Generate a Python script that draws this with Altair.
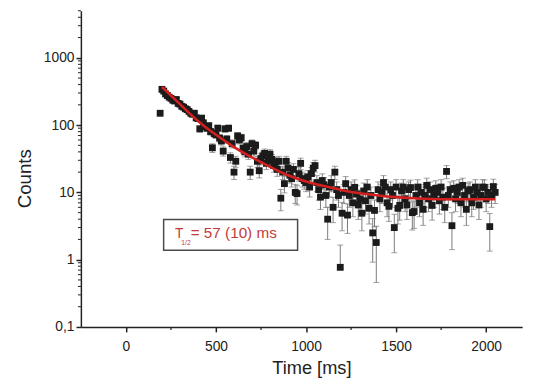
import altair as alt
import pandas as pd

# ---- data ----
time_ms = [190,
    200, 210, 220, 230, 240, 250, 260, 270, 280, 290,
    300, 310, 320, 330, 340, 350, 360, 370, 380, 390,
    400, 410, 420, 430, 440, 450, 460, 470, 480, 490,
    500, 510, 520, 530, 540, 550, 560, 570, 580, 590,
    600, 610, 620, 630, 640, 650, 660, 670, 680, 690,
    700, 710, 720, 730, 740, 750, 760, 770, 780, 790,
    800, 810, 820, 830, 840, 850, 860, 870, 880, 890,
    900, 910, 920, 930, 940, 950, 960, 970, 980, 990,
    1000, 1010, 1020, 1030, 1040, 1050, 1060, 1070, 1080, 1090,
    1100, 1110, 1120, 1130, 1140, 1150, 1160, 1170, 1180, 1190,
    1200, 1210, 1220, 1230, 1240, 1250, 1260, 1270, 1280, 1290,
    1300, 1310, 1320, 1330, 1340, 1350, 1360, 1370, 1380, 1390,
    1400, 1410, 1420, 1430, 1440, 1450, 1460, 1470, 1480, 1490,
    1500, 1510, 1520, 1530, 1540, 1550, 1560, 1570, 1580, 1590,
    1600, 1610, 1620, 1630, 1640, 1650, 1660, 1670, 1680, 1690,
    1700, 1710, 1720, 1730, 1740, 1750, 1760, 1770, 1780, 1790,
    1800, 1810, 1820, 1830, 1840, 1850, 1860, 1870, 1880, 1890,
    1900, 1910, 1920, 1930, 1940, 1950, 1960, 1970, 1980, 1990,
    2000, 2010, 2020, 2030, 2040, 2050]

counts = [150,
    340, 320, 290, 275, 260, 250, 235, 228, 240, 210,
    205, 190, 185, 175, 170, 160, 150, 145, 150, 128,
    125, 88, 127, 108, 95, 90, 98, 80, 46, 75,
    72, 90, 64, 58, 41, 88, 62, 90, 33, 53,
    20, 29, 69, 60, 65, 45, 40, 48, 37, 20,
    53, 41, 50, 29, 21, 32, 35, 38, 27, 30,
    37, 31, 25, 28, 22, 29, 8.2, 20, 13.5, 29,
    23, 18, 16, 22, 10, 9.6, 19, 27, 16, 15,
    14, 17, 12, 19, 23, 25, 14, 11, 8.5, 15,
    13, 9, 4, 12, 14, 6, 20, 11, 9, 0.77,
    4.9, 10, 13.5, 4.6, 9, 11, 7, 11.9, 9.5, 6.5,
    8, 4.9, 10.5, 7.5, 12, 5.8, 9, 2.5, 5.4, 1.8,
    11, 8, 10, 14, 12, 7, 6.2, 11, 9, 3.0,
    12, 5.8, 6.4, 10.5, 12, 8, 6.5, 11, 11.8, 5,
    5.2, 9, 12, 7, 10, 5.6, 9, 12.7, 8, 11,
    6.4, 9, 11.5, 10, 7.5, 12, 8.5, 6, 20.5, 9,
    11, 3.2, 11.5, 8, 10, 12, 7, 12.7, 9, 5.6,
    10.5, 11, 7, 8.5, 12, 10, 6.5, 9, 12, 11.9,
    8, 10, 3.1, 9, 12.2, 10]

fit_t = [200, 250, 300, 350, 400, 450, 500, 550, 600, 700, 800, 900, 1000,
         1100, 1200, 1300, 1400, 1500, 1600, 1700, 1800, 1900, 2000, 2050]
fit_v = [370, 275, 205, 152, 115, 90, 72, 58, 47, 33, 24, 18, 14.5,
         12.4, 10.8, 9.7, 9.0, 8.5, 8.2, 8.0, 7.9, 7.9, 7.9, 7.9]

x_ticks = [0, 500, 1000, 1500, 2000]
x_minor = [250, 750, 1250, 1750]
y_ticks = [0.1, 1, 10, 100, 1000]
y_minor = [0.2, 0.3, 0.4, 0.5, 0.6, 0.7, 0.8, 0.9,
           2, 3, 4, 5, 6, 7, 8, 9,
           20, 30, 40, 50, 60, 70, 80, 90,
           200, 300, 400, 500, 600, 700, 800, 900,
           2000, 3000, 4000, 5000]

ann_T = "T"
ann_sub = "1/2"
ann_rest = "= 57 (10) ms"

# ---- chart ----
df = pd.DataFrame({"t": time_ms, "c": counts})
fit_df = pd.DataFrame({"t": fit_t, "v": fit_v})

W, H = 448, 321
FONT = "Liberation Sans"
AX = "#222222"

xscale = alt.Scale(domain=[-250, 2200], nice=False, zero=False)
yscale = alt.Scale(type="log", domain=[0.1, 5000], nice=False)

x_axis = alt.Axis(values=x_ticks, title="Time [ms]", grid=False, tickSize=5,
                  tickWidth=1.5, tickColor=AX, domainColor=AX, domainWidth=1.5,
                  labelFontSize=14, labelFont=FONT, labelColor=AX, labelPadding=8,
                  labelExpr="format(datum.value, 'd')",
                  labelFlush=False, titleFont=FONT, titleFontSize=18.5,
                  titleFontWeight="normal", titleColor=AX, titleX=234, titleY=47,
                  titleAlign="center", titleBaseline="alphabetic")
y_axis = alt.Axis(values=y_ticks, title="Counts", grid=False, tickSize=5,
                  tickWidth=1.5, tickColor=AX, domainColor=AX, domainWidth=1.5,
                  labelFontSize=14, labelFont=FONT, labelColor=AX, labelPadding=2,
                  labelExpr="datum.value < 0.5 ? '0,1' : format(datum.value, 'd')",
                  titleFont=FONT, titleFontSize=19, titleFontWeight="normal",
                  titleColor=AX, titleAngle=270, titleX=-57, titleY=170,
                  titleAlign="center", titleBaseline="middle")


def X(f):
    return alt.X(f, type="quantitative", scale=xscale, axis=x_axis)


def Y(f):
    return alt.Y(f, type="quantitative", scale=yscale, axis=y_axis)


base = alt.Chart(df).transform_calculate(
    err="sqrt(datum.c)"
).transform_calculate(
    lo="datum.c - datum.err > 0 ? datum.c - datum.err : datum.c",
    hi="datum.c + datum.err",
)

GRAY = "#7a7a7a"
err_rules = base.mark_rule(color=GRAY, strokeWidth=1).encode(
    x=X("t"), y=Y("lo"), y2="hi:Q")
caps_hi = base.mark_tick(orient="horizontal", color=GRAY, size=6, thickness=1).encode(
    x=X("t"), y=Y("hi"))
caps_lo = base.transform_filter("datum.lo < datum.c").mark_tick(
    orient="horizontal", color=GRAY, size=6, thickness=1).encode(
    x=X("t"), y=Y("lo"))
points = alt.Chart(df).mark_point(shape="square", filled=True, size=48,
                                  color="#1b1b1b", opacity=1).encode(
    x=X("t"), y=Y("c"))
fit = alt.Chart(fit_df).mark_line(color="#d41f1f", strokeWidth=2.6,
                                  interpolate="monotone").encode(
    x=X("t"), y=Y("v"))

xm = alt.Chart(pd.DataFrame({"v": x_minor})).mark_rule(color=AX, strokeWidth=1.2).encode(
    x=X("v"), y=alt.value(H), y2=alt.value(H + 3))
ym = alt.Chart(pd.DataFrame({"v": y_minor})).mark_rule(color=AX, strokeWidth=1).encode(
    y=Y("v"), x=alt.value(-3), x2=alt.value(0))

one = alt.Data(values=[{"k": 1}])
box = alt.Chart(one).mark_rect(fill="white", stroke="#4a4a4a", strokeWidth=1.5).encode(
    x=alt.value(84), x2=alt.value(220), y=alt.value(212), y2=alt.value(243))
RED = "#c23a3a"
t_main = alt.Chart(one).mark_text(align="left", baseline="alphabetic", font=FONT,
                                  fontSize=14, color=RED).encode(
    x=alt.value(95.5), y=alt.value(231), text=alt.value(ann_T))
t_sub = alt.Chart(one).mark_text(align="left", baseline="alphabetic", font=FONT,
                                 fontSize=6.8, color=RED).encode(
    x=alt.value(102), y=alt.value(237.5), text=alt.value(ann_sub))
t_rest = alt.Chart(one).mark_text(align="left", baseline="alphabetic", font=FONT,
                                  fontSize=15.5, color=RED).encode(
    x=alt.value(111.5), y=alt.value(231), text=alt.value(ann_rest))

chart = alt.layer(
    err_rules, caps_hi, caps_lo, points, fit, xm, ym, box, t_main, t_sub, t_rest
).properties(
    width=W, height=H,
    autosize=alt.AutoSizeParams(type="none"),
    padding={"left": 74, "top": 0, "right": 13, "bottom": 50},
    background="white",
).configure_view(stroke=None)

chart.save("out.html", embed_options={"renderer": "svg", "actions": False})
